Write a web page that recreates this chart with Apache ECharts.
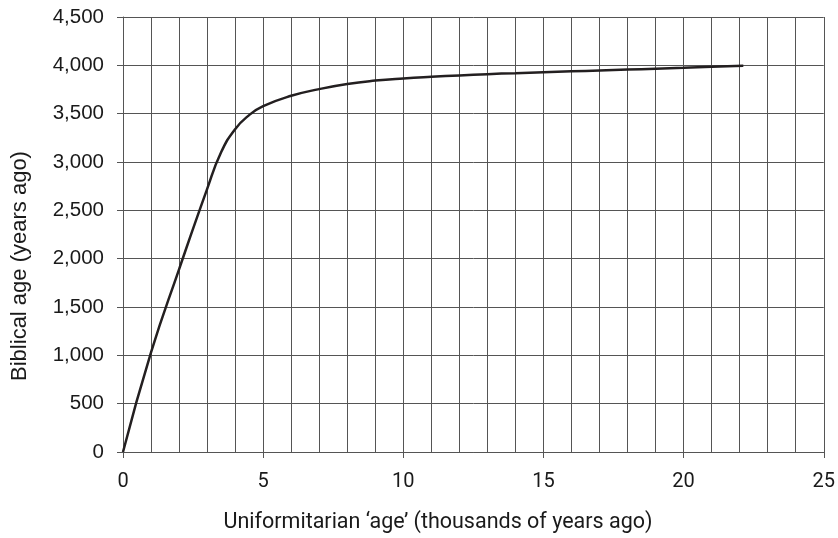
<!DOCTYPE html>
<html>
<head>
<meta charset="utf-8">
<script src="https://cdn.jsdelivr.net/npm/echarts@6/dist/echarts.min.js"></script>
<style>
html,body{margin:0;padding:0;background:#fff;}
#chart{width:838px;height:538px;}
</style>
</head>
<body>
<div id="chart"></div>
<script>
// Uniformitarian 'age' (thousands of years ago)
const uniformAge = [0, 1, 2, 3, 3.5, 4, 4.5, 5, 6, 7, 8, 9, 10, 11, 12, 13, 14, 15, 16, 17, 18, 19, 20, 21, 22.13];
// Biblical age (years ago)
const biblicalAge = [0, 1030, 1890, 2720, 3100, 3340, 3485, 3578, 3685, 3754, 3807, 3842, 3865, 3882, 3896, 3909, 3919, 3929, 3938, 3947, 3956, 3965, 3975, 3986, 3996];
const xTitle = "Uniformitarian \u2018age\u2019 (thousands of years ago)";
const yTitle = "Biblical age (years ago)";

const chart = echarts.init(document.getElementById('chart'), null, {renderer: 'canvas'});
const gridColor = '#555';
chart.setOption({
  animation: false,
  backgroundColor: '#fff',
  grid: {left: 123, right: 12, top: 17, bottom: 86, containLabel: false},
  xAxis: {
    type: 'value', min: 0, max: 25, interval: 5,
    axisLine: {show: true, onZero: false, lineStyle: {color: gridColor, width: 1}},
    axisTick: {show: true, length: 6, lineStyle: {color: gridColor}},
    axisLabel: {color: '#1a1a1a', fontFamily: 'Roboto', fontSize: 20, margin: 20},
    splitLine: {show: true, lineStyle: {color: gridColor, width: 1}},
    minorTick: {show: false, splitNumber: 5},
    minorSplitLine: {show: true, lineStyle: {color: gridColor, width: 1}}
  },
  yAxis: {
    type: 'value', min: 0, max: 4500, interval: 500,
    axisLine: {show: true, onZero: false, lineStyle: {color: gridColor, width: 1}},
    axisTick: {show: true, length: 6, lineStyle: {color: gridColor}},
    axisLabel: {color: '#1a1a1a', fontFamily: 'Liberation Sans', fontSize: 20.5, margin: 19,
      formatter: v => v.toLocaleString('en-US')},
    splitLine: {show: true, lineStyle: {color: gridColor, width: 1}}
  },
  graphic: [
    {type: 'text', x: 438, y: 523,
     style: {text: xTitle, font: '21.5px Roboto', fill: '#1a1a1a', align: 'center', verticalAlign: 'middle'}},
    {type: 'text', x: 20, y: 266, rotation: Math.PI / 2,
     style: {text: yTitle, font: '22px "Liberation Sans"', fill: '#1a1a1a', align: 'center', verticalAlign: 'middle'}}
  ],
  series: [{
    type: 'line',
    data: uniformAge.map((x, i) => [x, biblicalAge[i]]),
    smooth: 0.5,
    showSymbol: false,
    lineStyle: {color: '#231f20', width: 2.5},
    z: 5
  }]
});
</script>
</body>
</html>
